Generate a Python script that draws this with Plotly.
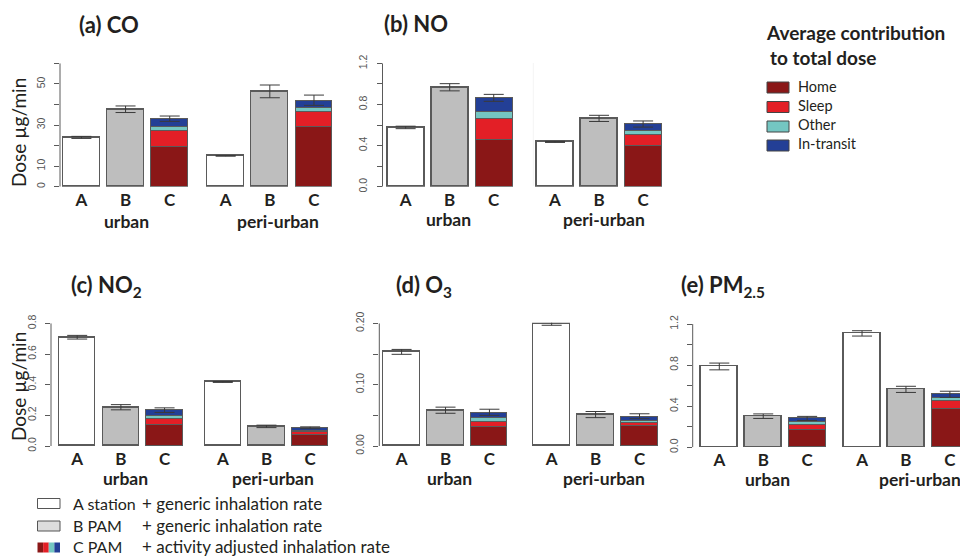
import plotly.graph_objects as go

W, H = 960, 556

# ---------------- data ----------------
groups = ["urban", "peri-urban"]
methods = ["A", "B", "C"]
panel_titles = ["(a) CO", "(b) NO", "(c) NO<sub>2</sub>", "(d) O<sub>3</sub>", "(e) PM<sub>2.5</sub>"]

# A: station + generic inhalation rate   [urban, peri-urban]
station = [[24.0, 15.0], [0.577, 0.436], [0.710, 0.418], [0.1536, 0.200], [0.787, 1.109]]
# B: PAM + generic inhalation rate
pam = [[37.7, 46.4], [0.968, 0.665], [0.253, 0.128], [0.0584, 0.0513], [0.303, 0.564]]
# C: PAM + activity adjusted inhalation rate, contributions
home = [[19.4, 29.0], [0.458, 0.403], [0.138, 0.076], [0.031, 0.0324], [0.168, 0.371]]
sleep = [[8.0, 7.6], [0.204, 0.107], [0.037, 0.015], [0.008, 0.0049], [0.045, 0.080]]
other = [[2.0, 2.1], [0.071, 0.039], [0.022, 0.011], [0.007, 0.0047], [0.029, 0.029]]
transit = [[3.7, 3.4], [0.132, 0.061], [0.037, 0.017], [0.009, 0.0066], [0.039, 0.036]]
# error bar half-lengths
err_A = [[0.5, 0.15], [0.012, 0.005], [0.012, 0.003], [0.004, 0.003], [0.033, 0.026]]
err_B = [[1.6, 3.1], [0.035, 0.03], [0.017, 0.008], [0.005, 0.005], [0.022, 0.03]]
err_C = [[1.3, 2.5], [0.034, 0.03], [0.015, 0.006], [0.005, 0.004], [0.02, 0.03]]

# y tick values / labels (empty label = unlabelled tick)
ytick_vals = [
    [0, 10, 20, 30, 40, 50, 60],
    [0, 0.2, 0.4, 0.6, 0.8, 1.0, 1.2],
    [0, 0.2, 0.4, 0.6, 0.8],
    [0, 0.05, 0.10, 0.15, 0.20],
    [0, 0.2, 0.4, 0.6, 0.8, 1.0, 1.2],
]
ytick_text = [
    ["0", "10", "", "30", "", "50", ""],
    ["0.0", "", "0.4", "", "0.8", "", "1.2"],
    ["0.0", "0.2", "0.4", "0.6", "0.8"],
    ["0.00", "", "0.10", "", "0.20"],
    ["0.0", "", "0.4", "", "0.8", "", "1.2"],
]

contrib_names = ["Home", "Sleep", "Other", "In-transit"]

# ---------------- styles / layout geometry ----------------
COL_HOME = "#8a1717"
COL_SLEEP = "#e31f26"
COL_OTHER = "#74c6c2"
COL_TRANSIT = "#233f96"
COL_B = "#bebebe"
EDGE = "#5a5a5a"
TXT = "#231f20"
contrib_colors = [COL_HOME, COL_SLEEP, COL_OTHER, COL_TRANSIT]

geo = [
    dict(axis=60, left=63, ppu=36.8, step=3.92, right=336, top=62.7, bottom=186.7,
         title=(77, 25), glab_y=222, gshift=(1, 8), ytitle=133),
    dict(axis=382.5, left=387.3, ppu=36.7, step=4.07, right=662, top=62.7, bottom=186.7,
         title=(382, 24), glab_y=219, gshift=(-1, 5), ytitle=None),
    dict(axis=51, left=59, ppu=36.4, step=4.0, right=330, top=322.7, bottom=446,
         title=(69, 286), glab_y=478, gshift=(5, 7), ytitle=387),
    dict(axis=379.3, left=383.3, ppu=36.6, step=4.1, right=660, top=322.7, bottom=446,
         title=(394, 286), glab_y=478, gshift=(4, 8), ytitle=None),
    dict(axis=692.7, left=701, ppu=36.6, step=3.9, right=960, top=323.3, bottom=447.3,
         title=(679, 286), glab_y=479, gshift=(4, 14), ytitle=None),
]


def X(px):
    return px / W


def Y(py):
    return 1 - py / H


fig = go.Figure()
annotations = []
shapes = []

for k in range(5):
    g = geo[k]
    xa = "x" if k == 0 else f"x{k+1}"
    ya = "y" if k == 0 else f"y{k+1}"
    step = g["step"]
    pos = {m: [gi * step + i * 1.2 + 0.5 for gi in range(2)] for i, m in enumerate(methods)}

    # A bars
    fig.add_trace(go.Bar(x=pos["A"], y=station[k], width=1, xaxis=xa, yaxis=ya,
                         marker=dict(color="white", line=dict(color=EDGE, width=1.3))))
    # B bars
    fig.add_trace(go.Bar(x=pos["B"], y=pam[k], width=1, xaxis=xa, yaxis=ya,
                         marker=dict(color=COL_B, line=dict(color=EDGE, width=1.3))))
    # C stacked bars
    for vals, col in zip([home[k], sleep[k], other[k], transit[k]], contrib_colors):
        fig.add_trace(go.Bar(x=pos["C"], y=vals, width=1, xaxis=xa, yaxis=ya,
                             marker=dict(color=col, line=dict(color=EDGE, width=1))))
    # error bars
    totC = [home[k][j] + sleep[k][j] + other[k][j] + transit[k][j] for j in range(2)]
    for xs, ys, es in [(pos["A"], station[k], err_A[k]), (pos["B"], pam[k], err_B[k]),
                       (pos["C"], totC, err_C[k])]:
        fig.add_trace(go.Scatter(x=xs, y=ys, mode="markers", xaxis=xa, yaxis=ya,
                                 marker=dict(size=1, color="rgba(0,0,0,0)"),
                                 error_y=dict(type="data", array=es, color="#3a3a3a",
                                              thickness=1, width=10)))

    x0 = (g["axis"] - g["left"]) / g["ppu"]
    x1 = (g["right"] - g["left"]) / g["ppu"]
    centers = pos["A"] + pos["B"] + pos["C"]
    labels = ["<b>A</b>"] * 2 + ["<b>B</b>"] * 2 + ["<b>C</b>"] * 2
    xkey = "xaxis" if k == 0 else f"xaxis{k+1}"
    ykey = "yaxis" if k == 0 else f"yaxis{k+1}"
    ymax = ytick_vals[k][-1] * 1.006
    major_vals = [v for v, t in zip(ytick_vals[k], ytick_text[k]) if t]
    major_text = [t for t in ytick_text[k] if t]
    tick_step = ytick_vals[k][1] - ytick_vals[k][0]
    fig.update_layout(**{
        xkey: dict(domain=[X(g["axis"]), X(g["right"])], range=[x0, x1], anchor=ya,
                   automargin=False,
                   showline=False, showgrid=False, zeroline=False, ticks="",
                   tickvals=centers, ticktext=labels, ticklabelstandoff=1,
                   tickfont=dict(family="Lato", size=17, color=TXT)),
        ykey: dict(domain=[Y(g["bottom"]), Y(g["top"])],
                   range=[0, ymax], anchor=xa, automargin=False,
                   showline=False, showgrid=False, zeroline=False,
                   ticks="outside", ticklen=5, tickcolor=EDGE, tickwidth=1,
                   tickvals=major_vals, ticktext=major_text, tickangle=-90,
                   ticklabelstandoff=5,
                   minor=dict(tick0=0, dtick=tick_step, ticks="outside", ticklen=5,
                              tickcolor=EDGE, tickwidth=1, showgrid=False),
                   tickfont=dict(family="Liberation Sans", size=10.5, color="#555555")),
    })
    # y axis line from 0 to the last tick (as in the original)
    shapes.append(dict(type="line", xref=f"{xa} domain", yref=ya, x0=0, x1=0,
                       y0=0, y1=ytick_vals[k][-1], line=dict(color=EDGE, width=1)))

    # panel title
    annotations.append(dict(text="<b>" + panel_titles[k] + "</b>", xref="paper", yref="paper",
                            x=X(g["title"][0]), y=Y(g["title"][1]), xanchor="left",
                            yanchor="middle", showarrow=False,
                            font=dict(family="Lato", size=22, color=TXT)))
    # group labels
    for gi, gname in enumerate(groups):
        annotations.append(dict(text="<b>" + gname + "</b>", xref=xa, yref="paper",
                                x=pos["B"][gi], y=Y(g["glab_y"]), xanchor="center",
                                yanchor="middle", xshift=g["gshift"][gi], showarrow=False,
                                font=dict(family="Lato", size=17.5, color=TXT)))
    if g["ytitle"] is not None:
        annotations.append(dict(text="Dose µg/min", xref="paper", yref="paper",
                                x=X(18), y=Y(g["ytitle"]), textangle=-90,
                                xanchor="center", yanchor="middle", showarrow=False,
                                font=dict(family="Lato", size=19, color=TXT)))

# faint separator seen in panel (b)
shapes.append(dict(type="line", xref="paper", yref="paper", x0=X(533.3), x1=X(533.3),
                   y0=Y(186), y1=Y(63), line=dict(color="#f4f4f4", width=1)))

# ---------------- top-right legend ----------------
annotations.append(dict(text="<b>Average contribution</b>", xref="paper", yref="paper",
                        x=X(764), y=Y(33), xanchor="left", yanchor="middle", showarrow=False,
                        font=dict(family="Lato", size=19, color=TXT)))
annotations.append(dict(text="<b>to total dose</b>", xref="paper", yref="paper",
                        x=X(768), y=Y(57), xanchor="left", yanchor="middle", showarrow=False,
                        font=dict(family="Lato", size=19, color=TXT)))
leg_y = [86, 105.5, 125, 144]
for name, col, cy in zip(contrib_names, contrib_colors, leg_y):
    shapes.append(dict(type="rect", xref="paper", yref="paper",
                       x0=X(767), x1=X(789), y0=Y(cy + 1.5 + 5.5), y1=Y(cy + 1.5 - 5.5),
                       fillcolor=col, line=dict(color="#444444", width=1)))
    annotations.append(dict(text=name, xref="paper", yref="paper", x=X(796), y=Y(cy),
                            xanchor="left", yanchor="middle", showarrow=False,
                            font=dict(family="Lato", size=14.5, color=TXT)))

# ---------------- bottom legend ----------------
rows = [("A station", "+ generic inhalation rate"),
        ("B PAM", "+ generic inhalation rate"),
        ("C PAM", "+ activity adjusted inhalation rate")]
row_y = [503, 525.5, 546.5]
for (lab, desc), cy in zip(rows, row_y):
    annotations.append(dict(text=lab, xref="paper", yref="paper", x=X(71), y=Y(cy),
                            xanchor="left", yanchor="middle", showarrow=False,
                            font=dict(family="Lato", size=16, color=TXT)))
    annotations.append(dict(text=desc, xref="paper", yref="paper", x=X(140), y=Y(cy),
                            xanchor="left", yanchor="middle", showarrow=False,
                            font=dict(family="Lato", size=17, color=TXT)))
shapes.append(dict(type="rect", xref="paper", yref="paper", x0=X(37.5), x1=X(60),
                   y0=Y(508.5), y1=Y(498.5), fillcolor="white", line=dict(color="#555555", width=1)))
shapes.append(dict(type="rect", xref="paper", yref="paper", x0=X(37.5), x1=X(60),
                   y0=Y(531), y1=Y(521), fillcolor="#dddddd", line=dict(color="#555555", width=1)))
sw = (60 - 37.5) / 4
for i, col in enumerate(contrib_colors):
    shapes.append(dict(type="rect", xref="paper", yref="paper",
                       x0=X(37.5 + i * sw), x1=X(37.5 + (i + 1) * sw),
                       y0=Y(552.5), y1=Y(542.5), fillcolor=col, line=dict(width=0)))

fig.update_layout(template="none", width=W, height=H, margin=dict(l=0, r=0, t=0, b=0, pad=0),
                  paper_bgcolor="white", plot_bgcolor="white", showlegend=False,
                  barmode="stack", bargap=0, annotations=annotations, shapes=shapes)

fig.write_html("out.html")
